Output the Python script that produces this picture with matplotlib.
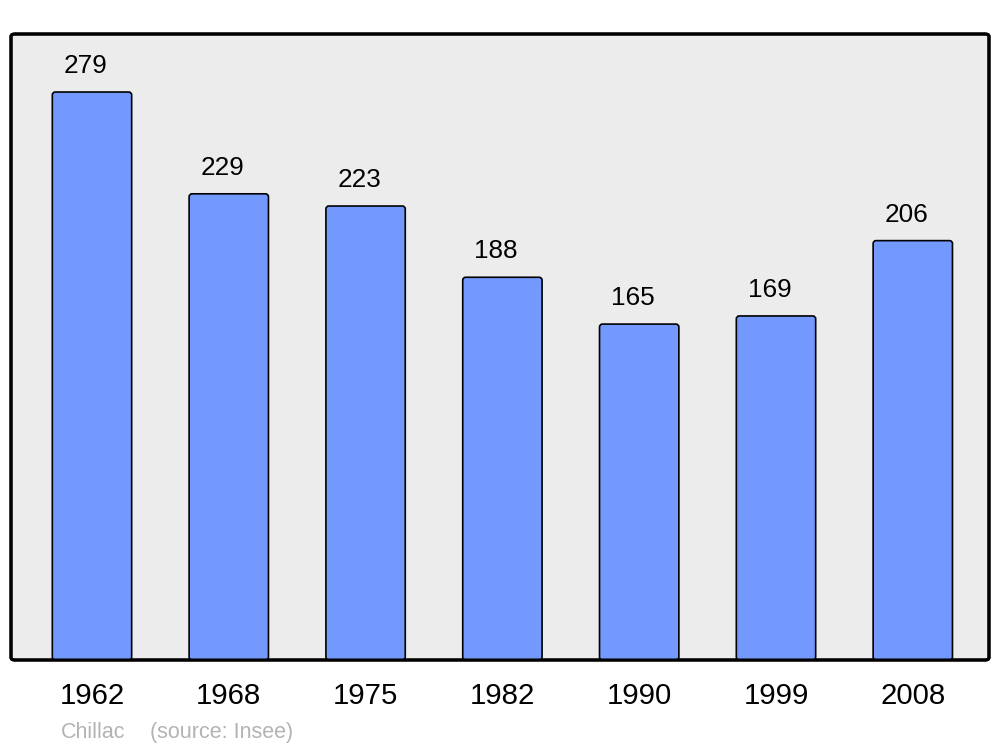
import matplotlib
matplotlib.use("Agg")
import matplotlib.pyplot as plt
from matplotlib.patches import FancyBboxPatch

years = ["1962", "1968", "1975", "1982", "1990", "1999", "2008"]
population = [279, 229, 223, 188, 165, 169, 206]
commune = "Chillac"
source = "(source: Insee)"

plt.rcParams['font.family'] = ['Liberation Sans', 'DejaVu Sans']

fig = plt.figure(figsize=(10, 7.47), dpi=100)
W, H = 1000, 747
ax = fig.add_axes([11 / W, 1 - 660 / H, 978 / W, 626 / H])
ax.set_facecolor('none')

x = list(range(len(years)))
bars = ax.bar(x, population, width=0.58, color='#7399ff', edgecolor='black',
              linewidth=1.2, zorder=3)
ax.set_ylim(0, 307.5)
ax.set_xlim(-0.592, 6.557)

# rounded versions of the bars, using the library's bar geometry
for r in bars:
    bx, by, bw, bh = r.get_x(), r.get_y(), r.get_width(), r.get_height()
    r.set_visible(False)
    ax.add_patch(FancyBboxPatch((bx, by), bw, bh,
                                boxstyle="round,pad=0,rounding_size=0.022",
                                mutation_aspect=67.2, facecolor='#7399ff',
                                edgecolor='black', linewidth=1.2, zorder=3))

for xi, v in zip(x, population):
    ax.annotate(str(v), (xi, v), xytext=(-4.5, 10), textcoords='offset points',
                ha='center', va='bottom', fontsize=18.8, color='black')

ax.set_xticks(x)
ax.set_xticklabels(years, fontsize=21.2)
ax.tick_params(axis='x', length=0, pad=16)
ax.set_yticks([])
for s in ax.spines.values():
    s.set_visible(False)

frame = FancyBboxPatch((0, 0), 1, 1, boxstyle="round,pad=0,rounding_size=0.004",
                       transform=ax.transAxes, facecolor='#ececec',
                       edgecolor='black', linewidth=2.2, zorder=0, clip_on=False)
ax.add_patch(frame)
frame2 = FancyBboxPatch((0, 0), 1, 1, boxstyle="round,pad=0,rounding_size=0.004",
                        transform=ax.transAxes, facecolor='none',
                        edgecolor='black', linewidth=2.2, zorder=5, clip_on=False)
ax.add_patch(frame2)

fig.text(61 / W, 1 - 738 / H, commune, fontsize=15.5, color='#b3b3b3', ha='left', va='baseline')
fig.text(150 / W, 1 - 738 / H, source, fontsize=15.5, color='#b3b3b3', ha='left', va='baseline')

fig.savefig("out.png", dpi=100, facecolor='white')
